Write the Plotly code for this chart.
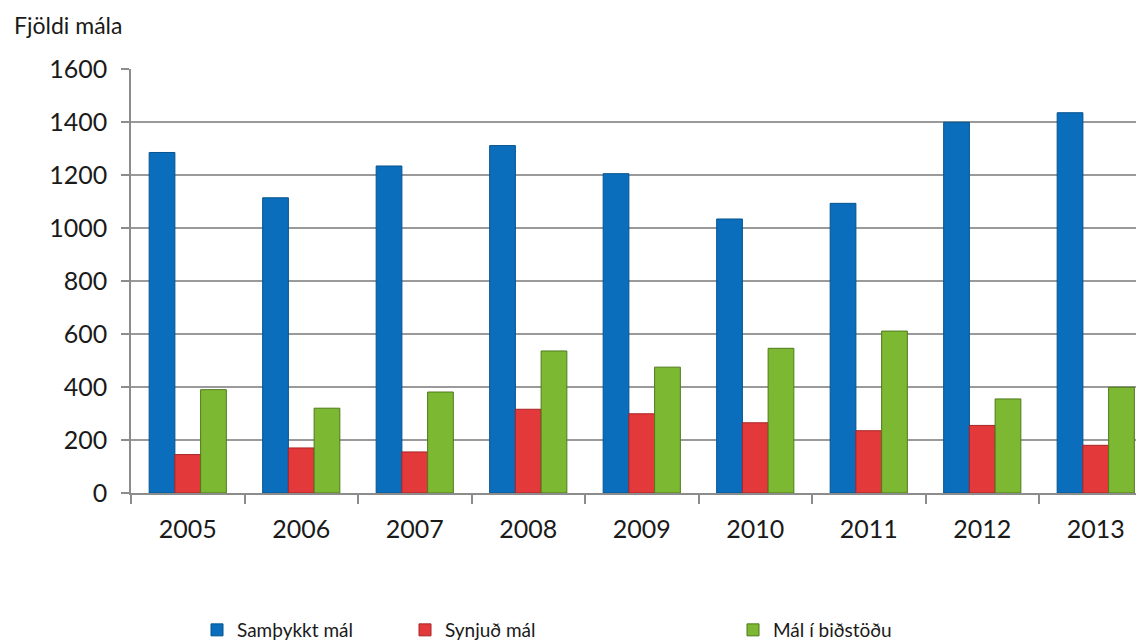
import plotly.graph_objects as go

years = ["2005", "2006", "2007", "2008", "2009", "2010", "2011", "2012", "2013"]
samthykkt = [1285, 1114, 1234, 1311, 1205, 1034, 1093, 1399, 1435]
synjud = [145, 170, 155, 316, 299, 265, 235, 255, 180]
bidstodu = [390, 320, 381, 536, 475, 546, 611, 355, 399]

series_names = ["Samþykkt mál", "Synjuð mál", "Mál í biðstöðu"]
colors = ["#0A6EBD", "#E4393B", "#7DB832"]
edges = ["#04548F", "#A82526", "#4E7A1B"]
y_ticks = [0, 200, 400, 600, 800, 1000, 1200, 1400, 1600]

FONT = "Lato"
OFF = 8  # page body margin
W, H = 1144 - OFF, 642 - OFF
L, R, T, B = 131 - OFF, 0, 69 - OFF, 149

fig = go.Figure()
legends = ["legend", "legend2", "legend3"]
for name, vals, c, e, lg in zip(series_names, [samthykkt, synjud, bidstodu], colors, edges, legends):
    fig.add_trace(go.Bar(
        x=years, y=vals, name=name, legend=lg, showlegend=True,
        marker=dict(color=c, line=dict(color=e, width=1)),
    ))

legend_common = dict(orientation="h", xref="container", yref="container", yanchor="middle",
                     xanchor="left",
                     font=dict(family=FONT, size=19, color="#1a1a1a"),
                     bgcolor="rgba(0,0,0,0)", itemwidth=30, tracegroupgap=0,
                     visible=True)

def cx(px):
    return (px - OFF) / float(W)

def cy(py):
    return 1 - (py - OFF) / float(H)

fig.update_layout(
    width=W, height=H,
    margin=dict(l=L, r=R, t=T, b=B, autoexpand=False),
    paper_bgcolor="white", plot_bgcolor="white",
    barmode="group", bargap=0.32, bargroupgap=0,
    font=dict(family=FONT, color="#1a1a1a"),
    showlegend=True,
    legend=dict(x=cx(197), y=cy(630), **legend_common),
    legend2=dict(x=cx(405), y=cy(630), **legend_common),
    legend3=dict(x=cx(733), y=cy(630), **legend_common),
    xaxis=dict(
        type="category", range=[-0.5, 8.425], automargin=False,
        showline=True, linecolor="#8C8C8C", linewidth=1.5,
        ticks="outside", tickson="boundaries", ticklen=9, tickcolor="#8C8C8C", tickwidth=1.5,
        tickfont=dict(family=FONT, size=25, color="#1a1a1a"),
        ticklabelstandoff=13, showgrid=False,
    ),
    yaxis=dict(
        range=[0, 1600], tickvals=y_ticks, ticktext=[str(v) for v in y_ticks],
        automargin=False,
        showline=True, linecolor="#8C8C8C", linewidth=1.5,
        ticks="outside", ticklen=8, tickcolor="#8C8C8C", tickwidth=1.5,
        showgrid=True, gridcolor="#9A9A9A", gridwidth=1.5,
        zeroline=False,
        tickfont=dict(family=FONT, size=25, color="#1a1a1a"),
        ticklabelstandoff=9,
    ),
    annotations=[dict(
        text="Fjöldi mála", xref="paper", yref="paper",
        x=(12 - OFF - L) / float(W - L - R), y=1 + (T - (25 - OFF)) / float(H - T - B),
        xanchor="left", yanchor="middle", showarrow=False,
        font=dict(family=FONT, size=23, color="#1a1a1a"),
    )],
)

fig.write_html("out.html")
